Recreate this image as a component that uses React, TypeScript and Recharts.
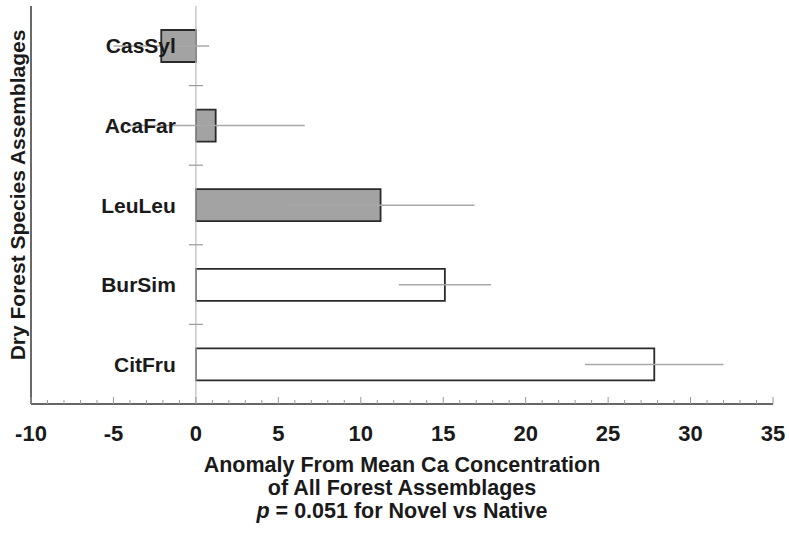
import React from 'react';
import { BarChart, Bar, XAxis, YAxis, Cell, ErrorBar, ReferenceLine, Label } from 'recharts';

const categories = ['CasSyl', 'AcaFar', 'LeuLeu', 'BurSim', 'CitFru'];
const anomalies = [-2.1, 1.2, 11.2, 15.1, 27.8];
const errors = [2.9, 5.4, 5.7, 2.8, 4.2];
const groups = ['novel', 'novel', 'novel', 'native', 'native'];
const xDomain: [number, number] = [-10, 35];
const xTicks: number[] = [];
for (let v = xDomain[0]; v <= xDomain[1]; v += 1) xTicks.push(v);

const data = categories.map((name, i) => ({ name, value: anomalies[i], err: errors[i], group: groups[i] }));

const W = 789;
const H = 534;
const MARGIN = { top: 6, right: 16, bottom: 0, left: 0 };
const Y_AXIS_W = 31;
const X_AXIS_H = 130;
const plotLeft = MARGIN.left + Y_AXIS_W;
const plotWidth = W - MARGIN.left - MARGIN.right - Y_AXIS_W;
const plotHeight = H - MARGIN.top - MARGIN.bottom - X_AXIS_H;
const zeroX = plotLeft + (plotWidth * (0 - xDomain[0])) / (xDomain[1] - xDomain[0]);
const band = plotHeight / categories.length;

const FONT = '"Liberation Sans", Arial, Helvetica, sans-serif';

const YTick = (props: any) => {
  const { y, payload, index } = props;
  return (
    <g>
      <text x={zeroX - 20} y={y} dy="0.36em" textAnchor="end" fontFamily={FONT} fontWeight="bold" fontSize={21} fill="#1a1a1a">
        {payload.value}
      </text>
      {index < categories.length - 1 && (
        <line x1={zeroX - 7} x2={zeroX + 7} y1={y + band / 2} y2={y + band / 2} stroke="#999" strokeWidth={1.2} />
      )}
    </g>
  );
};

const XTick = (props: any) => {
  const { x, y, payload } = props;
  const v = payload.value as number;
  const major = v % 5 === 0;
  return (
    <g>
      <line x1={x} x2={x} y1={y} y2={y - (major ? 7 : 4)} stroke="#999" strokeWidth={1} />
      {major && (
        <text x={x} y={y + 37} textAnchor="middle" fontFamily={FONT} fontWeight="bold" fontSize={22} fill="#1a1a1a">
          {v}
        </text>
      )}
    </g>
  );
};

const XTitle = (props: any) => {
  const vb = props.viewBox || {};
  const cx = vb.x + vb.width / 2;
  const y0 = vb.y;
  const common = { x: cx, textAnchor: 'middle' as const, fontFamily: FONT, fontWeight: 'bold', fontSize: 21.5, fill: '#1a1a1a' };
  return (
    <g>
      <text {...common} y={y0 + 68}>Anomaly From Mean Ca Concentration</text>
      <text {...common} y={y0 + 91}>of All Forest Assemblages</text>
      <text {...common} y={y0 + 114}>
        <tspan fontStyle="italic">p</tspan>
        <tspan> = 0.051 for Novel vs Native</tspan>
      </text>
    </g>
  );
};

const YTitle = (props: any) => {
  const vb = props.viewBox || {};
  const x = vb.x + 25;
  const cy = vb.y + vb.height / 2 - 10;
  return (
    <text x={x} y={cy} transform={`rotate(-90, ${x}, ${cy})`} textAnchor="middle" fontFamily={FONT} fontWeight="bold" fontSize={21} fill="#1a1a1a">
      Dry Forest Species Assemblages
    </text>
  );
};

export default function App() {
  return (
    <div style={{ position: 'absolute', left: 0, top: 0, background: '#fff' }}>
      <BarChart width={W} height={H} data={data} layout="vertical" margin={MARGIN}>
        <XAxis
          type="number"
          dataKey="value"
          domain={xDomain}
          ticks={xTicks}
          interval={0}
          allowDataOverflow
          tickSize={0}
          tickMargin={0}
          tickLine={false}
          tick={<XTick />}
          axisLine={{ stroke: '#333', strokeWidth: 1.6 }}
          height={X_AXIS_H}
        >
          <Label content={<XTitle />} />
        </XAxis>
        <XAxis
          xAxisId="top"
          orientation="top"
          type="number"
          domain={xDomain}
          allowDataOverflow
          tick={false}
          tickLine={false}
          axisLine={{ stroke: '#333', strokeWidth: 1.6 }}
          height={0}
        />
        <YAxis
          type="category"
          dataKey="name"
          width={Y_AXIS_W}
          tickLine={false}
          tick={<YTick />}
          interval={0}
          axisLine={{ stroke: '#444', strokeWidth: 1.6 }}
        >
          <Label content={<YTitle />} />
        </YAxis>
        <YAxis
          yAxisId="right"
          orientation="right"
          type="category"
          dataKey="name"
          width={0}
          tick={false}
          tickLine={false}
          axisLine={{ stroke: '#333', strokeWidth: 1.6 }}
        />
        <ReferenceLine x={0} stroke="#bbb" strokeWidth={1.2} />
        <Bar dataKey="value" barSize={32} stroke="#2a2a2a" strokeWidth={1.8} isAnimationActive={false}>
          {data.map((d) => (
            <Cell key={d.name} fill={d.group === 'novel' ? '#a3a3a3' : '#ffffff'} />
          ))}
          <ErrorBar dataKey="err" direction="x" width={0} stroke="#a8a8a8" strokeWidth={1.5} isAnimationActive={false} />
        </Bar>
      </BarChart>
    </div>
  );
}
